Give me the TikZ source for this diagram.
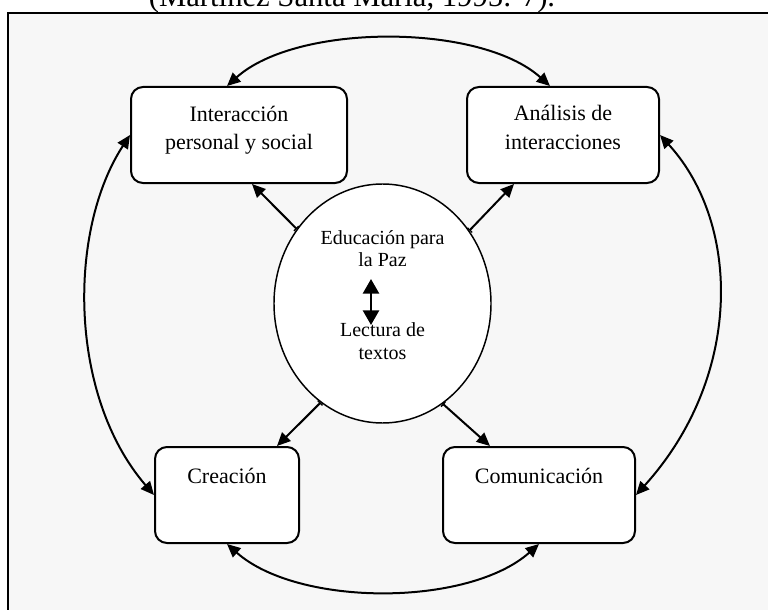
\documentclass[tikz,border=0pt]{standalone}
\usepackage{fontspec}
\setmainfont{Liberation Serif}
\usetikzlibrary{shapes.geometric,arrows.meta,calc}

\definecolor{panel}{HTML}{F7F7F7}

\tikzset{
  x=0.75pt, y=0.75pt,
  boxnode/.style={draw, line width=1.5pt, fill=white, rounded corners=9pt,
    minimum height=72pt, inner sep=0pt},
  boxtext/.style={align=center, anchor=base, inner sep=0pt,
    font=\fontsize{16.5}{21}\selectfont},
  ovaltext/.style={align=center, anchor=base, inner sep=0pt,
    font=\fontsize{15}{16.8}\selectfont},
  link/.style={line width=1.5pt,
    {Bar[width=5pt,line width=1pt]}-{Triangle[length=10pt,width=9pt]}},
  twoway/.style={line width=1.5pt,
    {Triangle[length=10pt,width=9pt]}-{Triangle[length=10pt,width=9pt]}},
  bigtwoway/.style={line width=2pt,
    {Triangle[length=11pt,width=12pt]}-{Triangle[length=11pt,width=12pt]}}
}

\begin{document}
\begin{tikzpicture}
  \useasboundingbox (0,0) rectangle (768,-610);
  \clip (0,0) rectangle (768,-610);
  \fill[white] (0,0) rectangle (768,-610);

  % caption line above the frame
  \node[anchor=base, inner sep=0pt, font=\fontsize{23}{26}\selectfont]
    (cap) at (352,-7) {(Martínez Santa María, 1995: 7).};

  % outer frame
  \draw[line width=1.6pt, fill=panel] (8,-13) rectangle (800,-640);

  % four activity boxes
  \node[boxnode, minimum width=162pt] (b1) at (239,-135) {};
  \node[boxnode, minimum width=144pt] (b2) at (563,-135) {};
  \node[boxnode, minimum width=108pt] (b3) at (227,-495) {};
  \node[boxnode, minimum width=144pt] (b4) at (539,-495) {};

  % box labels (anchored on the baseline of their last line)
  \node[boxtext] (t1) at (239,-150) {Interacción\\personal y social};
  \node[boxtext] (t2) at (563,-149) {Análisis de\\interacciones};
  \node[boxtext] (t3) at (227,-483) {Creación};
  \node[boxtext] (t4) at (539,-483) {Comunicación};

  % central oval
  \node[ellipse, draw, line width=1.1pt, fill=white, inner sep=0pt,
    minimum width=162.75pt, minimum height=179.25pt] (e) at (382.5,-303.5) {};
  \node[ovaltext] (o1) at (382.5,-266.7) {Educación para\\la Paz};
  \node[ovaltext] (o2) at (382.5,-359.3) {Lectura de\\textos};
  \coordinate (up) at (371,-279);
  \coordinate (dn) at (371,-325);
  \draw[bigtwoway] (up) -- (dn);

  % oval to boxes
  \draw[link] (e.139) -- ($(b1.south)+(13,0)$);
  \draw[link] (e.40.7) -- ($(b2.south)+(-49,0)$);
  \draw[link] (e.238.2) -- ($(b3.north)+(50,0)$);
  \draw[link] (e.301.8) -- ($(b4.north)+(-49,0)$);

  % links between neighbouring boxes
  \draw[twoway] ($(b1.north)+(-12,0)$) .. controls (297,-23) and (480,-23) .. ($(b2.north)+(-13,0)$);
  \draw[twoway] (b3.south) .. controls (298,-607) and (468,-607) .. (b4.south);
  \draw[twoway] (b1.west) .. controls (68,-230) and (68,-395) .. (b3.west);
  \draw[twoway] (b2.east) .. controls (742,-225) and (742,-378) .. (b4.east);
\end{tikzpicture}
\end{document}
